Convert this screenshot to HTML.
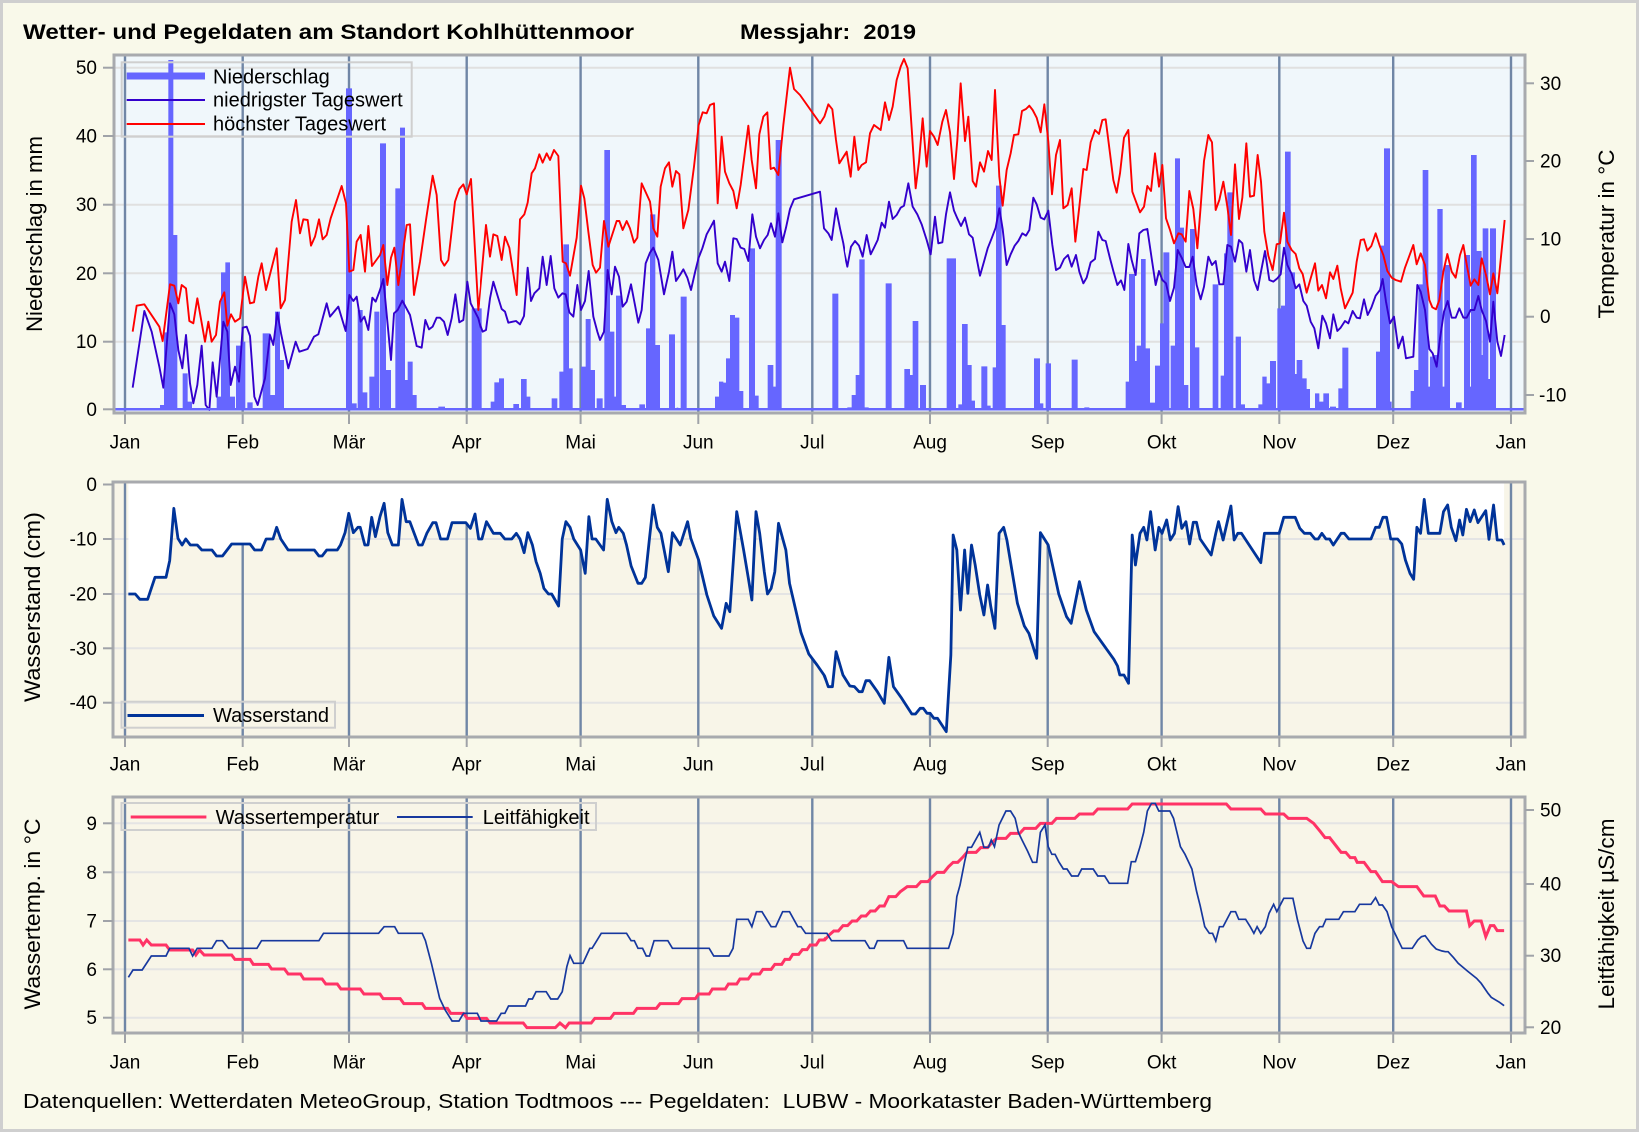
<!DOCTYPE html>
<html><head><meta charset="utf-8"><title>Wetter- und Pegeldaten Kohlhüttenmoor 2019</title>
<style>html,body{margin:0;padding:0;background:#F9F9EA}svg{display:block}</style></head>
<body>
<svg xmlns="http://www.w3.org/2000/svg" width="1639" height="1132" viewBox="0 0 1639 1132" font-family="'Liberation Sans', Arial, sans-serif">
<defs>
<clipPath id="cA"><rect x="100" y="55" width="380" height="358"/></clipPath>
<clipPath id="cB"><rect x="480" y="55" width="365" height="358"/></clipPath>
<clipPath id="cC"><rect x="845" y="55" width="365" height="358"/></clipPath>
<clipPath id="cD"><rect x="1210" y="55" width="315" height="358"/></clipPath>
<clipPath id="cE"><rect x="113" y="482" width="712" height="255"/></clipPath>
<clipPath id="cF"><rect x="825" y="482" width="700" height="255"/></clipPath>
<clipPath id="cG"><rect x="113" y="797" width="712" height="236"/></clipPath>
<clipPath id="cH"><rect x="825" y="797" width="700" height="236"/></clipPath>
</defs>
<rect width="1639" height="1132" fill="#F9F9EA"/>
<rect x="1.5" y="1.5" width="1636" height="1129" fill="none" stroke="#CFCFCF" stroke-width="3"/>

<!-- Title -->
<text x="23" y="39" font-size="21.5" font-weight="bold" fill="#000" textLength="611" lengthAdjust="spacingAndGlyphs">Wetter- und Pegeldaten am Standort Kohlhüttenmoor</text>
<text x="740" y="39" font-size="21.5" font-weight="bold" fill="#000" textLength="176" lengthAdjust="spacingAndGlyphs">Messjahr:&#160; 2019</text>

<!-- ================= PANEL 1 ================= -->
<rect x="114" y="55" width="1411" height="358" fill="#F0F7FB"/>
<g stroke="#E0E0E0" stroke-width="2">
<line x1="114" x2="1525" y1="67.7" y2="67.7"/><line x1="114" x2="1525" y1="136" y2="136"/><line x1="114" x2="1525" y1="204.7" y2="204.7"/><line x1="114" x2="1525" y1="273.3" y2="273.3"/><line x1="114" x2="1525" y1="341.7" y2="341.7"/>
</g>
<g stroke="#7086A6" stroke-width="2.4">
<line x1="125" x2="125" y1="55" y2="413"/><line x1="242.7" x2="242.7" y1="55" y2="413"/><line x1="349" x2="349" y1="55" y2="413"/><line x1="466.7" x2="466.7" y1="55" y2="413"/><line x1="580.6" x2="580.6" y1="55" y2="413"/><line x1="698.3" x2="698.3" y1="55" y2="413"/><line x1="812.3" x2="812.3" y1="55" y2="413"/><line x1="930" x2="930" y1="55" y2="413"/><line x1="1047.7" x2="1047.7" y1="55" y2="413"/><line x1="1161.6" x2="1161.6" y1="55" y2="413"/><line x1="1279.3" x2="1279.3" y1="55" y2="413"/><line x1="1393.2" x2="1393.2" y1="55" y2="413"/><line x1="1511" x2="1511" y1="55" y2="413"/>
</g>

<!-- zoom A -->
<g clip-path="url(#cA)"><g transform="translate(110,55) scale(0.333333)">
<path fill="#6666FF" d="M150 1063V1050H162V1063ZM162 1063V832H175V1063ZM175 1063V15H190V1063ZM190 1063V540H202V1063ZM218 1063V955H233V1063ZM233 1063V1040H246V1063ZM320 1063V1025H333V1063ZM333 1063V652H346V1063ZM346 1063V622H360V1063ZM360 1063V1025H375V1063ZM378 1063V872H392V1063ZM392 1063V860H406V1063ZM412 1063V1042H428V1063ZM458 1063V835H470V1063ZM470 1063V835H481V1063ZM481 1063V1020H495V1063ZM495 1063V770H510V1063ZM510 1063V915H522V1063ZM708 1063V100H726V1063ZM726 1063V1045H740V1063ZM743 1063V765H758V1063ZM758 1063V1012H772V1063ZM778 1063V965H793V1063ZM793 1063V770H808V1063ZM810 1063V265H828V1063ZM828 1063V945H843V1063ZM856 1063V400H870V1063ZM870 1063V218H885V1063ZM885 1063V975H893V1063ZM893 1063V920H908V1063ZM908 1063V1020H920V1063ZM985 1063V1055H1005V1063ZM1085 1063V760H1112V1063Z"/>
<polyline fill="none" stroke="#3300CC" stroke-width="1.9" vector-effect="non-scaling-stroke" stroke-linejoin="round" points="68,998 103,768 125,830 148,935 160,998 180,745 193,778 205,885 217,940 228,840 240,985 250,1045 262,990 275,872 287,1050 298,1065 308,922 320,1025 340,800 352,830 362,990 375,935 387,980 398,818 410,815 420,843 433,1025 443,1050 465,970 480,840 490,870 502,773 513,835 535,940 557,860 568,890 593,882 612,845 625,838 650,745 660,785 685,755 707,828 718,720 730,738 740,725 752,800 763,785 775,825 787,728 797,740 810,705 820,672 843,915 852,775 863,765 877,737 900,780 920,873 935,878 946,795 957,823 968,815 980,788 990,788 1002,800 1013,840 1025,790 1036,718 1048,802 1060,795 1072,680 1082,745 1105,790 1115,828 1128,825 1140,730"/>
<polyline fill="none" stroke="#FF0000" stroke-width="1.9" vector-effect="non-scaling-stroke" stroke-linejoin="round" points="68,830 80,752 103,748 148,815 158,858 180,688 193,692 205,745 215,690 228,700 238,798 250,805 262,730 285,860 295,800 305,860 318,840 330,740 343,712 352,812 363,778 375,800 390,790 405,665 420,745 432,742 445,665 455,625 468,705 500,580 512,760 525,735 545,500 558,435 570,535 580,493 593,495 603,572 615,545 627,493 638,553 650,540 662,490 695,393 708,445 718,650 730,645 740,560 752,540 765,650 775,513 786,633 810,600 820,570 832,690 843,608 853,578 865,690 890,510 900,508 912,720 930,620 948,495 968,362 980,420 993,615 1003,632 1015,615 1035,440 1048,402 1060,388 1070,418 1083,372 1105,765 1130,535 1140,610"/>
</g></g>

<!-- zoom B -->
<g clip-path="url(#cB)"><g transform="translate(470,55) scale(0.333333)">
<path fill="#6666FF" d="M5 1063V760H35V1063ZM62 1063V1040H73V1063ZM73 1063V982H87V1063ZM87 1063V970H102V1063ZM130 1063V1047H147V1063ZM153 1063V972H170V1063ZM170 1063V1025H181V1063ZM245 1063V1030H262V1063ZM268 1063V950H280V1063ZM280 1063V568H297V1063ZM297 1063V940H308V1063ZM333 1063V935H347V1063ZM347 1063V792H362V1063ZM362 1063V945H375V1063ZM380 1063V1030H398V1063ZM403 1063V285H420V1063ZM420 1063V830H433V1063ZM433 1063V1025H438V1063ZM438 1063V722H455V1063ZM455 1063V1050H468V1063ZM508 1063V1048H525V1063ZM528 1063V820H540V1063ZM540 1063V478H556V1063ZM556 1063V870H570V1063ZM597 1063V838H615V1063ZM620 1063V1058H625V1063ZM632 1063V725H650V1063ZM650 1063V1060H660V1063ZM700 1063V1060H715V1063ZM735 1063V1025H747V1063ZM747 1063V980H760V1063ZM760 1063V983H770V1063ZM768 1063V910H780V1063ZM780 1063V780H795V1063ZM795 1063V788H808V1063ZM808 1063V1008H820V1063ZM837 1063V580H855V1063ZM855 1063V1022H866V1063ZM893 1063V930H910V1063ZM910 1063V995H918V1063ZM917 1063V255H935V1063ZM1087 1063V716H1105V1063ZM1135 1063V1055H1140V1063Z"/>
<polyline fill="none" stroke="#3300CC" stroke-width="1.9" vector-effect="non-scaling-stroke" stroke-linejoin="round" points="0,728 12,762 25,795 38,830 48,825 60,730 70,680 82,720 95,762 105,770 115,803 128,800 138,798 150,808 162,783 173,638 183,738 193,715 208,700 218,605 230,690 242,603 253,700 265,728 277,715 287,718 298,772 310,785 322,690 333,765 345,738 356,648 370,785 382,830 390,855 402,830 413,645 425,718 435,635 447,665 458,755 470,740 483,688 492,735 505,803 515,765 527,625 540,593 550,578 565,615 582,718 597,650 607,590 618,678 630,660 640,643 652,668 663,705 676,648 686,608 697,580 710,538 720,520 732,497 743,625 755,650 765,620 778,678 790,550 800,552 812,578 823,582 835,618 847,478 858,545 870,580 882,555 893,540 903,505 915,545 925,475 937,562 948,518 960,462 972,433 1050,410 1062,520 1075,535 1085,555 1098,460 1110,520 1120,565 1132,638 1140,600"/>
<polyline fill="none" stroke="#FF0000" stroke-width="1.9" vector-effect="non-scaling-stroke" stroke-linejoin="round" points="0,375 25,765 48,510 60,605 70,538 82,543 95,615 105,545 118,578 140,720 150,493 163,478 173,443 185,355 195,340 208,298 218,323 230,295 240,315 252,285 265,303 278,620 288,625 300,662 320,548 333,392 343,430 355,530 368,630 378,653 390,638 402,498 415,575 440,498 448,498 458,525 470,498 480,520 492,563 502,548 515,385 540,440 550,520 562,545 572,395 585,340 597,322 607,395 618,348 628,358 640,520 655,465 672,335 686,210 698,172 710,175 720,150 732,145 743,445 755,245 765,350 778,385 790,408 800,460 812,390 823,305 835,212 845,315 858,400 868,238 880,185 892,172 902,342 912,338 925,360 940,210 960,38 972,102 990,120 1050,205 1063,185 1075,148 1087,163 1098,255 1108,325 1130,290 1140,345"/>
</g></g>

<!-- zoom C -->
<g clip-path="url(#cC)"><g transform="translate(840,55) scale(0.333333)">
<path fill="#6666FF" d="M22 1063V1057H35V1063ZM35 1063V1020H47V1063ZM47 1063V960H58V1063ZM58 1063V613H74V1063ZM74 1063V1057H86V1063ZM137 1063V685H155V1063ZM193 1063V942H210V1063ZM210 1063V960H218V1063ZM218 1063V798H235V1063ZM240 1063V990H258V1063ZM320 1063V610H348V1063ZM355 1063V1048H367V1063ZM366 1063V807H383V1063ZM383 1063V930H395V1063ZM395 1063V1037H405V1063ZM424 1063V934H442V1063ZM440 1063V1052H452V1063ZM458 1063V937H468V1063ZM468 1063V392H485V1063ZM485 1063V810H497V1063ZM582 1063V910H600V1063ZM600 1063V1045H610V1063ZM617 1063V925H633V1063ZM695 1063V914H713V1063ZM733 1063V1057H748V1063ZM857 1063V980H867V1063ZM867 1063V657H885V1063ZM885 1063V918H890V1063ZM890 1063V872H903V1063ZM903 1063V612H917V1063ZM917 1063V880H930V1063ZM930 1063V1043H945V1063ZM945 1063V932H960V1063ZM960 1063V805H970V1063ZM970 1063V592H988V1063ZM992 1063V872H1005V1063ZM1005 1063V310H1020V1063ZM1020 1063V518H1032V1063ZM1032 1063V990H1045V1063ZM1050 1063V522H1065V1063ZM1065 1063V877H1078V1063ZM1118 1063V688H1140V1063Z"/>
<polyline fill="none" stroke="#3300CC" stroke-width="1.9" vector-effect="non-scaling-stroke" stroke-linejoin="round" points="0,518 10,580 22,635 33,575 45,558 57,572 68,605 80,540 92,598 102,578 113,555 125,503 135,518 147,440 158,492 170,480 182,458 192,452 205,385 218,455 232,478 245,508 260,555 272,598 285,485 295,565 307,562 318,478 330,412 342,467 352,490 363,513 375,488 387,538 398,548 408,600 420,662 432,620 443,580 455,550 467,518 478,460 488,522 500,630 512,598 524,572 535,558 547,535 558,542 568,525 580,428 590,448 602,488 613,493 625,467 637,570 648,645 660,638 672,612 684,600 695,635 708,600 718,650 730,685 740,668 752,622 765,612 775,530 787,555 797,558 810,610 820,648 832,690 843,676 853,705 865,567 875,615 887,660 898,535 910,525 922,522 935,610 947,690 957,648 967,675 978,685 990,738 1002,698 1013,585 1025,608 1037,636 1048,636 1058,605 1070,690 1082,733 1092,695 1105,605 1115,627 1128,618 1140,690"/>
<polyline fill="none" stroke="#FF0000" stroke-width="1.9" vector-effect="non-scaling-stroke" stroke-linejoin="round" points="0,325 20,290 32,365 43,245 55,345 65,330 78,322 90,235 102,210 122,225 135,142 147,195 158,155 170,75 182,35 192,12 203,40 227,400 237,320 248,190 260,335 270,228 282,245 293,270 307,200 318,165 330,232 342,372 352,255 362,85 375,258 385,185 398,378 408,395 420,322 432,350 444,288 455,315 465,105 478,365 488,452 500,345 512,295 522,240 535,238 546,168 558,162 568,152 578,165 590,188 602,232 613,148 625,260 636,418 648,300 660,255 670,460 683,450 695,400 706,560 718,455 730,342 740,345 752,262 765,225 777,237 787,195 797,193 810,295 820,375 830,413 840,355 852,248 865,225 877,410 888,440 900,472 912,455 922,393 933,408 945,295 957,395 967,330 978,490 990,525 1002,565 1015,535 1025,538 1037,560 1048,408 1060,462 1072,580 1082,455 1092,318 1105,240 1115,263 1130,465 1140,420"/>
</g></g>

<!-- zoom D -->
<g clip-path="url(#cD)"><g transform="translate(1200,55) scale(0.333333)">
<path fill="#6666FF" d="M38 1063V688H55V1063ZM62 1063V962H72V1063ZM72 1063V595H82V1063ZM82 1063V412H100V1063ZM107 1063V845H123V1063ZM123 1063V1048H135V1063ZM175 1063V1048H187V1063ZM187 1063V965H200V1063ZM200 1063V985H210V1063ZM210 1063V918H228V1063ZM232 1063V760H243V1063ZM243 1063V752H255V1063ZM255 1063V290H272V1063ZM272 1063V652H285V1063ZM285 1063V957H290V1063ZM290 1063V915H307V1063ZM307 1063V970H320V1063ZM320 1063V1002H330V1063ZM345 1063V1015H358V1063ZM358 1063V1040H370V1063ZM370 1063V1015H387V1063ZM390 1063V1055H408V1063ZM415 1063V1000H427V1063ZM427 1063V878H445V1063ZM528 1063V890H540V1063ZM540 1063V572H552V1063ZM552 1063V280H570V1063ZM570 1063V1040H575V1063ZM632 1063V1008H642V1063ZM642 1063V945H655V1063ZM655 1063V688H668V1063ZM668 1063V345H685V1063ZM685 1063V995H690V1063ZM690 1063V905H697V1063ZM697 1063V900H712V1063ZM712 1063V462H728V1063ZM728 1063V995H733V1063ZM733 1063V630H750V1063ZM768 1063V1042H785V1063ZM792 1063V600H810V1063ZM810 1063V995H813V1063ZM813 1063V300H830V1063ZM830 1063V588H845V1063ZM845 1063V900H850V1063ZM848 1063V520H865V1063ZM865 1063V972H870V1063ZM870 1063V520H888V1063Z"/>
<polyline fill="none" stroke="#3300CC" stroke-width="1.9" vector-effect="non-scaling-stroke" stroke-linejoin="round" points="0,740 12,690 24,603 36,630 47,618 58,688 70,688 82,570 93,575 105,620 117,555 127,565 139,650 150,585 162,675 173,705 183,650 195,588 208,675 220,680 232,670 242,658 252,578 262,630 275,657 287,700 298,688 310,738 320,752 332,800 343,820 355,880 367,782 378,805 390,850 400,778 412,828 422,818 435,798 445,805 458,768 470,788 480,790 492,733 503,780 514,758 527,722 540,705 548,672 558,740 570,805 582,785 595,880 608,845 618,910 640,905 652,690 662,710 675,765 688,882 698,895 710,935 720,850 732,770 743,738 755,788 767,788 778,760 790,788 800,788 812,765 823,765 835,723 845,765 858,798 870,860 880,740 892,860 903,903 914,840"/>
<polyline fill="none" stroke="#FF0000" stroke-width="1.9" vector-effect="non-scaling-stroke" stroke-linejoin="round" points="0,465 12,308 24,240 36,262 47,465 58,435 70,380 82,455 93,540 105,328 117,492 127,428 139,265 150,425 162,422 173,300 183,380 193,530 205,602 218,645 230,568 240,565 252,473 262,560 275,585 287,597 298,640 308,657 320,713 332,670 345,625 355,707 366,690 378,730 390,652 400,672 412,632 422,700 435,760 458,713 470,620 482,555 492,553 502,587 514,573 527,535 540,575 550,600 562,648 575,668 587,675 603,680 615,638 640,570 650,628 662,595 675,630 688,735 697,757 708,763 718,735 730,650 742,597 755,650 767,668 780,600 790,570 800,628 812,692 823,673 835,690 845,610 858,660 870,718 880,655 892,715 914,495"/>
</g></g>

<line x1="114" x2="1525" y1="409.3" y2="409.3" stroke="#6666FF" stroke-width="2.5"/>

<!-- legend panel 1 -->
<rect x="121.7" y="62.3" width="290" height="74.4" fill="none" stroke="#CFCFCF" stroke-width="2"/>
<line x1="126.7" x2="205" y1="76" y2="76" stroke="#6666FF" stroke-width="7"/>
<line x1="126.7" x2="205" y1="100" y2="100" stroke="#3300CC" stroke-width="2"/>
<line x1="126.7" x2="205" y1="124" y2="124" stroke="#FF0000" stroke-width="2"/>
<g font-size="20" fill="#000">
<text x="213" y="83.3">Niederschlag</text>
<text x="213" y="106.7">niedrigster Tageswert</text>
<text x="213" y="130.3">höchster Tageswert</text>
</g>
<rect x="114" y="55" width="1411" height="358" fill="none" stroke="#A8AAAE" stroke-width="3"/>

<!-- ================= PANEL 2 ================= -->
<rect x="113" y="482" width="1412" height="255" fill="#F8F5E8"/>
<g stroke="#E4E4E4" stroke-width="2">
<line x1="113" x2="1525" y1="539" y2="539"/><line x1="113" x2="1525" y1="594" y2="594"/><line x1="113" x2="1525" y1="648.3" y2="648.3"/><line x1="113" x2="1525" y1="702.7" y2="702.7"/>
</g>
<g stroke="#7086A6" stroke-width="2.4">
<line x1="125" x2="125" y1="482" y2="737"/><line x1="242.7" x2="242.7" y1="482" y2="737"/><line x1="349" x2="349" y1="482" y2="737"/><line x1="466.7" x2="466.7" y1="482" y2="737"/><line x1="580.6" x2="580.6" y1="482" y2="737"/><line x1="698.3" x2="698.3" y1="482" y2="737"/><line x1="812.3" x2="812.3" y1="482" y2="737"/><line x1="930" x2="930" y1="482" y2="737"/><line x1="1047.7" x2="1047.7" y1="482" y2="737"/><line x1="1161.6" x2="1161.6" y1="482" y2="737"/><line x1="1279.3" x2="1279.3" y1="482" y2="737"/><line x1="1393.2" x2="1393.2" y1="482" y2="737"/><line x1="1511" x2="1511" y1="482" y2="737"/>
</g>
<g clip-path="url(#cE)"><g transform="translate(110,470) scale(0.459137,0.333333)">
<polygon fill="#FFFFFF" points="40,372 55,372 65,388 82,388 98,322 122,322 130,272 139,115 148,205 157,225 165,207 175,225 190,225 200,240 222,240 232,258 245,258 265,222 305,222 315,240 330,240 340,207 355,207 363,172 372,207 388,240 445,240 455,258 462,258 472,240 495,240 502,225 512,188 520,130 530,188 540,172 545,172 555,225 562,225 570,142 578,200 588,140 597,100 605,188 615,225 628,225 636,88 645,155 653,155 672,225 680,225 690,190 703,158 710,158 720,207 735,207 745,158 775,158 785,175 795,132 803,207 810,207 820,155 835,190 850,190 860,207 875,207 885,190 893,207 902,248 910,188 920,225 928,275 937,310 945,355 955,372 962,372 977,408 985,207 993,155 1002,172 1010,207 1025,240 1035,310 1043,140 1050,207 1058,207 1075,240 1083,88 1093,155 1102,188 1108,172 1118,190 1125,225 1135,288 1150,340 1158,340 1166,322 1175,205 1183,105 1192,172 1200,190 1216,305 1225,188 1242,225 1258,155 1265,205 1282,270 1300,375 1315,438 1332,475 1342,400 1350,425 1365,125 1380,240 1390,322 1398,390 1407,125 1415,190 1425,305 1432,372 1440,355 1448,305 1456,160 1472,240 1480,340 1505,488 1522,552 1540,585 1555,615 1565,650 1575,660 1575,36 40,36"/>
<polyline fill="none" stroke="#003399" stroke-width="2.8" vector-effect="non-scaling-stroke" stroke-linejoin="round" points="40,372 55,372 65,388 82,388 98,322 122,322 130,272 139,115 148,205 157,225 165,207 175,225 190,225 200,240 222,240 232,258 245,258 265,222 305,222 315,240 330,240 340,207 355,207 363,172 372,207 388,240 445,240 455,258 462,258 472,240 495,240 502,225 512,188 520,130 530,188 540,172 545,172 555,225 562,225 570,142 578,200 588,140 597,100 605,188 615,225 628,225 636,88 645,155 653,155 672,225 680,225 690,190 703,158 710,158 720,207 735,207 745,158 775,158 785,175 795,132 803,207 810,207 820,155 835,190 850,190 860,207 875,207 885,190 893,207 902,248 910,188 920,225 928,275 937,310 945,355 955,372 962,372 977,408 985,207 993,155 1002,172 1010,207 1025,240 1035,310 1043,140 1050,207 1058,207 1075,240 1083,88 1093,155 1102,188 1108,172 1118,190 1125,225 1135,288 1150,340 1158,340 1166,322 1175,205 1183,105 1192,172 1200,190 1216,305 1225,188 1242,225 1258,155 1265,205 1282,270 1300,375 1315,438 1332,475 1342,400 1350,425 1365,125 1380,240 1390,322 1398,390 1407,125 1415,190 1425,305 1432,372 1440,355 1448,305 1456,160 1472,240 1480,340 1505,488 1522,552 1540,585 1555,615 1565,650"/>
</g></g>
<g clip-path="url(#cF)"><g transform="translate(820,470) scale(0.459137,0.333333)">
<polygon fill="#FFFFFF" points="0,595 10,618 18,650 27,650 35,545 50,615 65,648 75,650 85,665 92,665 100,632 108,632 125,665 140,700 150,562 160,650 178,685 200,732 208,732 218,715 225,715 233,730 240,730 248,745 256,745 275,785 285,555 290,195 298,240 306,420 315,240 322,370 330,225 338,285 348,375 357,435 365,345 372,410 381,475 390,190 400,172 407,210 430,400 445,468 455,490 472,565 480,188 497,225 520,372 537,440 547,460 565,335 580,420 597,485 640,568 648,588 653,615 662,615 672,640 680,195 687,285 697,190 705,172 712,210 720,125 730,240 738,172 745,190 755,150 763,210 772,190 780,110 788,175 797,155 805,222 813,157 820,157 828,207 852,255 862,190 868,155 878,210 895,108 902,210 910,190 918,190 960,278 968,190 1000,190 1010,142 1035,142 1045,175 1055,190 1068,190 1078,207 1085,207 1093,190 1102,207 1110,207 1118,225 1135,190 1142,190 1152,207 1200,207 1210,172 1218,172 1226,142 1234,142 1243,207 1258,207 1267,222 1275,270 1285,310 1293,328 1300,172 1308,190 1316,88 1325,190 1350,190 1358,125 1367,105 1375,172 1385,212 1393,150 1400,195 1408,118 1416,155 1425,120 1433,158 1450,122 1457,208 1467,105 1475,210 1485,210 1490,225 1490,36 0,36"/>
<polyline fill="none" stroke="#003399" stroke-width="2.8" vector-effect="non-scaling-stroke" stroke-linejoin="round" points="0,595 10,618 18,650 27,650 35,545 50,615 65,648 75,650 85,665 92,665 100,632 108,632 125,665 140,700 150,562 160,650 178,685 200,732 208,732 218,715 225,715 233,730 240,730 248,745 256,745 275,785 285,555 290,195 298,240 306,420 315,240 322,370 330,225 338,285 348,375 357,435 365,345 372,410 381,475 390,190 400,172 407,210 430,400 445,468 455,490 472,565 480,188 497,225 520,372 537,440 547,460 565,335 580,420 597,485 640,568 648,588 653,615 662,615 672,640 680,195 687,285 697,190 705,172 712,210 720,125 730,240 738,172 745,190 755,150 763,210 772,190 780,110 788,175 797,155 805,222 813,157 820,157 828,207 852,255 862,190 868,155 878,210 895,108 902,210 910,190 918,190 960,278 968,190 1000,190 1010,142 1035,142 1045,175 1055,190 1068,190 1078,207 1085,207 1093,190 1102,207 1110,207 1118,225 1135,190 1142,190 1152,207 1200,207 1210,172 1218,172 1226,142 1234,142 1243,207 1258,207 1267,222 1275,270 1285,310 1293,328 1300,172 1308,190 1316,88 1325,190 1350,190 1358,125 1367,105 1375,172 1385,212 1393,150 1400,195 1408,118 1416,155 1425,120 1433,158 1450,122 1457,208 1467,105 1475,210 1485,210 1490,225"/>
</g></g>
<rect x="121.5" y="701.7" width="213.5" height="26" fill="none" stroke="#CFCFCF" stroke-width="2"/>
<line x1="127.5" x2="204" y1="715.5" y2="715.5" stroke="#003399" stroke-width="3"/>
<text x="213" y="722" font-size="20" fill="#000">Wasserstand</text>
<rect x="113" y="482" width="1412" height="255" fill="none" stroke="#A8AAAE" stroke-width="3"/>

<!-- ================= PANEL 3 ================= -->
<rect x="113" y="797" width="1412" height="236" fill="#F8F5E8"/>
<g stroke="#E4E4E4" stroke-width="2">
<line x1="113" x2="1525" y1="823.3" y2="823.3"/><line x1="113" x2="1525" y1="872.3" y2="872.3"/><line x1="113" x2="1525" y1="921" y2="921"/><line x1="113" x2="1525" y1="969.3" y2="969.3"/><line x1="113" x2="1525" y1="1017.7" y2="1017.7"/>
</g>
<g stroke="#7086A6" stroke-width="2.4">
<line x1="125" x2="125" y1="797" y2="1033"/><line x1="242.7" x2="242.7" y1="797" y2="1033"/><line x1="349" x2="349" y1="797" y2="1033"/><line x1="466.7" x2="466.7" y1="797" y2="1033"/><line x1="580.6" x2="580.6" y1="797" y2="1033"/><line x1="698.3" x2="698.3" y1="797" y2="1033"/><line x1="812.3" x2="812.3" y1="797" y2="1033"/><line x1="930" x2="930" y1="797" y2="1033"/><line x1="1047.7" x2="1047.7" y1="797" y2="1033"/><line x1="1161.6" x2="1161.6" y1="797" y2="1033"/><line x1="1279.3" x2="1279.3" y1="797" y2="1033"/><line x1="1393.2" x2="1393.2" y1="797" y2="1033"/><line x1="1511" x2="1511" y1="797" y2="1033"/>
</g>
<g clip-path="url(#cG)"><g transform="translate(110,785) scale(0.459137,0.333333)">
<polyline fill="none" stroke="#FF3366" stroke-width="3" vector-effect="non-scaling-stroke" points="40,465 65,465 72,480 80,465 90,480 122,480 130,495 180,495 187,510 195,495 205,510 265,510 272,523 305,523 312,538 345,538 352,552 380,552 388,567 415,567 422,582 462,582 470,597 495,597 503,612 545,612 553,627 588,627 595,641 632,641 640,656 680,656 687,670 735,670 742,685 770,685 778,700 820,700 828,714 900,714 908,728 970,728 980,714 992,728 1000,714 1048,714 1056,700 1090,700 1098,685 1140,685 1148,670 1190,670 1198,656 1238,656 1246,641 1275,641 1282,627 1305,627 1312,612 1340,612 1347,597 1365,597 1372,582 1390,582 1398,567 1415,567 1422,553 1440,553 1448,538 1463,538 1470,523 1480,523 1487,508 1500,508 1508,494 1518,494 1525,480 1538,480 1545,465 1555,465 1565,450"/>
<polyline fill="none" stroke="#17389E" stroke-width="1.7" vector-effect="non-scaling-stroke" points="40,577 50,555 70,555 90,513 122,513 130,490 172,490 180,513 190,490 222,490 232,467 245,467 258,490 320,490 330,467 455,467 465,445 585,445 597,425 620,425 628,445 680,445 687,467 700,535 718,640 730,675 745,708 760,708 770,685 800,685 808,708 842,708 852,685 860,685 868,663 905,663 912,642 920,642 928,620 950,620 960,642 975,642 985,620 995,545 1002,512 1010,535 1030,535 1045,490 1050,490 1070,445 1125,445 1135,467 1142,467 1150,490 1160,490 1168,513 1175,513 1185,467 1215,467 1225,490 1305,490 1315,513 1348,513 1357,490 1365,403 1390,403 1398,425 1408,380 1420,380 1440,425 1450,425 1465,380 1480,380 1498,425 1505,425 1515,445 1565,445"/>
</g></g>
<g clip-path="url(#cH)"><g transform="translate(820,785) scale(0.459137,0.333333)">
<polyline fill="none" stroke="#FF3366" stroke-width="3" vector-effect="non-scaling-stroke" points="0,465 10,465 20,450 30,438 40,438 50,422 60,422 70,408 80,408 90,393 100,393 110,378 120,378 130,363 140,363 150,335 165,335 175,320 190,305 210,305 220,290 235,290 245,275 255,262 270,262 280,245 290,232 300,232 310,218 320,202 340,202 350,188 365,188 375,172 385,160 405,160 415,145 435,145 445,130 470,130 480,115 505,115 515,100 555,100 565,87 595,87 605,72 670,72 680,57 885,57 895,72 960,72 970,87 1010,87 1020,100 1060,100 1075,115 1090,140 1100,158 1110,158 1135,202 1145,202 1155,218 1165,218 1170,232 1185,232 1200,260 1210,260 1225,290 1245,290 1260,305 1300,305 1315,333 1340,333 1350,363 1360,363 1370,378 1408,378 1415,422 1425,408 1440,408 1450,455 1460,422 1468,422 1475,437 1490,437"/>
<polyline fill="none" stroke="#17389E" stroke-width="1.7" vector-effect="non-scaling-stroke" points="0,445 15,445 25,467 98,467 108,490 118,490 125,467 182,467 190,490 280,490 290,445 298,335 305,300 315,230 322,187 330,187 348,142 357,187 367,187 373,165 380,185 390,120 405,78 415,78 425,100 432,142 440,165 452,198 463,232 472,232 480,142 490,120 497,185 505,208 512,208 520,230 530,252 538,252 548,273 562,273 570,252 595,252 605,273 620,273 630,295 670,295 678,230 687,230 697,185 705,142 713,78 722,55 730,55 738,78 762,78 770,100 785,185 795,208 810,252 820,318 828,362 838,425 848,445 855,445 862,468 870,425 878,425 895,380 905,380 912,403 927,403 937,425 945,445 952,425 960,445 970,425 978,385 988,358 995,380 1010,340 1030,340 1040,405 1052,468 1060,490 1068,490 1078,445 1088,425 1095,425 1102,403 1130,403 1140,380 1165,380 1175,358 1200,358 1210,338 1218,360 1225,360 1235,380 1245,425 1268,490 1290,490 1302,465 1310,455 1318,452 1332,478 1342,492 1355,498 1362,500 1368,500 1380,518 1390,535 1410,558 1430,580 1440,595 1455,625 1462,637 1480,652 1490,662"/>
</g></g>
<rect x="121.5" y="803" width="474.5" height="27" fill="none" stroke="#CFCFCF" stroke-width="2"/>
<line x1="130.7" x2="206.4" y1="817" y2="817" stroke="#FF3366" stroke-width="3"/>
<text x="215.6" y="824" font-size="20" fill="#000">Wassertemperatur</text>
<line x1="397" x2="472.7" y1="817" y2="817" stroke="#17389E" stroke-width="2"/>
<text x="482.8" y="824" font-size="20" fill="#000">Leitfähigkeit</text>
<rect x="113" y="797" width="1412" height="236" fill="none" stroke="#A8AAAE" stroke-width="3"/>

<!-- ================= TICKS ================= -->
<g stroke="#A0A3A8" stroke-width="2">
<!-- left ticks panel1 -->
<line x1="103" x2="114" y1="67.7" y2="67.7"/><line x1="103" x2="114" y1="136" y2="136"/><line x1="103" x2="114" y1="204.7" y2="204.7"/><line x1="103" x2="114" y1="273.3" y2="273.3"/><line x1="103" x2="114" y1="341.7" y2="341.7"/><line x1="103" x2="114" y1="409.3" y2="409.3"/>
<!-- right ticks panel1 -->
<line x1="1525" x2="1534" y1="83.3" y2="83.3"/><line x1="1525" x2="1534" y1="161" y2="161"/><line x1="1525" x2="1534" y1="239" y2="239"/><line x1="1525" x2="1534" y1="316.7" y2="316.7"/><line x1="1525" x2="1534" y1="395" y2="395"/>
<!-- left ticks panel2 -->
<line x1="103" x2="113" y1="484.5" y2="484.5"/><line x1="103" x2="113" y1="539" y2="539"/><line x1="103" x2="113" y1="594" y2="594"/><line x1="103" x2="113" y1="648.3" y2="648.3"/><line x1="103" x2="113" y1="702.7" y2="702.7"/>
<!-- left ticks panel3 -->
<line x1="103" x2="113" y1="823.3" y2="823.3"/><line x1="103" x2="113" y1="872.3" y2="872.3"/><line x1="103" x2="113" y1="921" y2="921"/><line x1="103" x2="113" y1="969.3" y2="969.3"/><line x1="103" x2="113" y1="1017.7" y2="1017.7"/>
<!-- right ticks panel3 -->
<line x1="1525" x2="1534" y1="810" y2="810"/><line x1="1525" x2="1534" y1="884" y2="884"/><line x1="1525" x2="1534" y1="955.7" y2="955.7"/><line x1="1525" x2="1534" y1="1027.3" y2="1027.3"/>
</g>
<g stroke="#A0A3A8" stroke-width="2">
<path d="M125 413V424M242.7 413V424M349 413V424M466.7 413V424M580.6 413V424M698.3 413V424M812.3 413V424M930 413V424M1047.7 413V424M1161.6 413V424M1279.3 413V424M1393.2 413V424M1511 413V424"/>
<path d="M125 737V747M242.7 737V747M349 737V747M466.7 737V747M580.6 737V747M698.3 737V747M812.3 737V747M930 737V747M1047.7 737V747M1161.6 737V747M1279.3 737V747M1393.2 737V747M1511 737V747"/>
<path d="M125 1033V1043M242.7 1033V1043M349 1033V1043M466.7 1033V1043M580.6 1033V1043M698.3 1033V1043M812.3 1033V1043M930 1033V1043M1047.7 1033V1043M1161.6 1033V1043M1279.3 1033V1043M1393.2 1033V1043M1511 1033V1043"/>
</g>

<!-- tick labels -->
<g font-size="19" fill="#000" text-anchor="end">
<text x="97" y="74.2">50</text><text x="97" y="142.5">40</text><text x="97" y="211.2">30</text><text x="97" y="279.8">20</text><text x="97" y="348.2">10</text><text x="97" y="415.8">0</text>
<text x="97" y="491">0</text><text x="97" y="545.5">-10</text><text x="97" y="600.5">-20</text><text x="97" y="654.8">-30</text><text x="97" y="709.2">-40</text>
<text x="97" y="829.8">9</text><text x="97" y="878.8">8</text><text x="97" y="927.5">7</text><text x="97" y="975.8">6</text><text x="97" y="1024.2">5</text>
</g>
<g font-size="19" fill="#000">
<text x="1540" y="89.8">30</text><text x="1540" y="167.5">20</text><text x="1540" y="245.5">10</text><text x="1540" y="323.2">0</text><text x="1539" y="401.5">-10</text>
<text x="1540" y="816.5">50</text><text x="1540" y="890.5">40</text><text x="1540" y="962.2">30</text><text x="1540" y="1033.8">20</text>
</g>
<g font-size="19" fill="#000" text-anchor="middle">
<text x="125" y="448.5">Jan</text><text x="242.7" y="448.5">Feb</text><text x="349" y="448.5">Mär</text><text x="466.7" y="448.5">Apr</text><text x="580.6" y="448.5">Mai</text><text x="698.3" y="448.5">Jun</text><text x="812.3" y="448.5">Jul</text><text x="930" y="448.5">Aug</text><text x="1047.7" y="448.5">Sep</text><text x="1161.6" y="448.5">Okt</text><text x="1279.3" y="448.5">Nov</text><text x="1393.2" y="448.5">Dez</text><text x="1511" y="448.5">Jan</text>
<text x="125" y="770.5">Jan</text><text x="242.7" y="770.5">Feb</text><text x="349" y="770.5">Mär</text><text x="466.7" y="770.5">Apr</text><text x="580.6" y="770.5">Mai</text><text x="698.3" y="770.5">Jun</text><text x="812.3" y="770.5">Jul</text><text x="930" y="770.5">Aug</text><text x="1047.7" y="770.5">Sep</text><text x="1161.6" y="770.5">Okt</text><text x="1279.3" y="770.5">Nov</text><text x="1393.2" y="770.5">Dez</text><text x="1511" y="770.5">Jan</text>
<text x="125" y="1068.5">Jan</text><text x="242.7" y="1068.5">Feb</text><text x="349" y="1068.5">Mär</text><text x="466.7" y="1068.5">Apr</text><text x="580.6" y="1068.5">Mai</text><text x="698.3" y="1068.5">Jun</text><text x="812.3" y="1068.5">Jul</text><text x="930" y="1068.5">Aug</text><text x="1047.7" y="1068.5">Sep</text><text x="1161.6" y="1068.5">Okt</text><text x="1279.3" y="1068.5">Nov</text><text x="1393.2" y="1068.5">Dez</text><text x="1511" y="1068.5">Jan</text>
</g>

<!-- axis titles -->
<g font-size="22.5" fill="#000" text-anchor="middle">
<text transform="translate(42,234) rotate(-90)" textLength="196" lengthAdjust="spacingAndGlyphs">Niederschlag in mm</text>
<text transform="translate(1614,234) rotate(-90)" textLength="169" lengthAdjust="spacingAndGlyphs">Temperatur in °C</text>
<text transform="translate(40,607) rotate(-90)" textLength="190" lengthAdjust="spacingAndGlyphs">Wasserstand (cm)</text>
<text transform="translate(40,914) rotate(-90)" textLength="191" lengthAdjust="spacingAndGlyphs">Wassertemp. in °C</text>
<text transform="translate(1614,914) rotate(-90)" textLength="191" lengthAdjust="spacingAndGlyphs">Leitfähigkeit µS/cm</text>
</g>

<!-- footer -->
<text x="23" y="1108" font-size="20" fill="#000" textLength="1189" lengthAdjust="spacingAndGlyphs">Datenquellen: Wetterdaten MeteoGroup, Station Todtmoos --- Pegeldaten:&#160; LUBW - Moorkataster Baden-Württemberg</text>
</svg>
</body></html>
